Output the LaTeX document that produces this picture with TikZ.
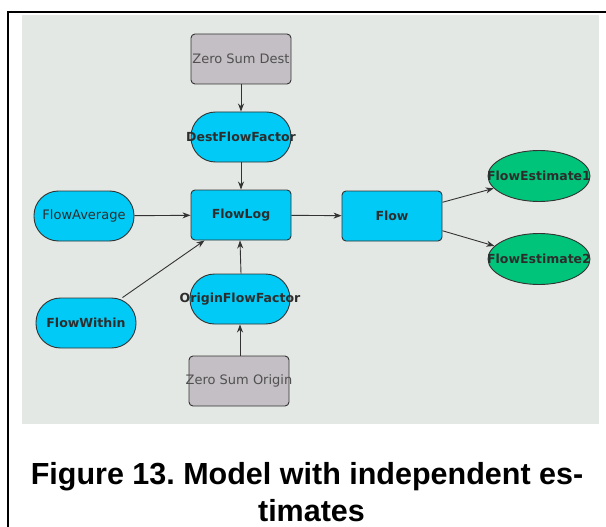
\documentclass[tikz,border=0pt]{standalone}
\usepackage{fontspec}
\newfontfamily\nodefont{DejaVu Sans}
\newfontfamily\capfont{Liberation Sans}
\usetikzlibrary{arrows.meta,shapes.geometric}
\definecolor{panelbg}{RGB}{228,232,228}
\definecolor{cyanfill}{RGB}{0,202,245}
\definecolor{greenfill}{RGB}{0,196,122}
\definecolor{grayfill}{RGB}{196,191,196}
\definecolor{edgecol}{RGB}{51,51,51}
\definecolor{labelcol}{RGB}{45,45,45}
\frenchspacing
% labels are set in zero-width boxes so that every node keeps its fixed size
\newcommand{\lbl}[1]{\makebox[0pt]{#1}}
\tikzset{
  base/.style={draw=edgecol, line width=0.9pt, minimum width=100pt, minimum height=50pt,
    inner sep=0pt, font=\nodefont\fontsize{13}{15}\selectfont, text=labelcol},
  boldlbl/.style={font=\nodefont\bfseries\fontsize{12.5}{15}\selectfont},
  constbox/.style={base, rectangle, rounded corners=4pt, fill=grayfill, text={rgb,255:red,80;green,80;blue,80}},
  varbox/.style={base, rectangle, rounded corners=4pt, fill=cyanfill, boldlbl},
  pill/.style={base, rectangle, rounded corners=24.5pt, fill=cyanfill},
  estim/.style={base, ellipse, minimum width=102pt, minimum height=51pt, fill=greenfill, boldlbl},
  link/.style={draw=edgecol, line width=0.9pt, -{Stealth[length=8pt,width=6pt,inset=2.5pt]}}
}
\begin{document}
\begin{tikzpicture}[x=1pt,y=-1pt]
  \useasboundingbox (0,0) rectangle (606,527);
  % page frame and canvas
  \draw[line width=2.2pt] (8,527) -- (8,12) -- (606,12);
  \fill[panelbg] (22,15) rectangle (599,424);

  % nodes
  \node[constbox] (zsd) at (241,59) {\lbl{Zero Sum Dest}};
  \node[pill, boldlbl] (dff) at (241,137) {\lbl{DestFlowFactor}};
  \node[varbox] (flog) at (241,215) {\lbl{FlowLog}};
  \node[pill] (favg) at (84,216) {\lbl{FlowAverage}};
  \node[varbox] (flow) at (392,216) {\lbl{Flow}};
  \node[estim] (fe1) at (539,176) {\lbl{FlowEstimate1}};
  \node[estim] (fe2) at (539,259) {\lbl{FlowEstimate2}};
  \node[pill, boldlbl] (fwith) at (86,323) {\lbl{FlowWithin}};
  \node[pill, boldlbl] (off) at (240,299) {\lbl{OriginFlowFactor}};
  \node[constbox] (zso) at (239,381) {\lbl{Zero Sum Origin}};

  % connectors
  \draw[link] (zsd) -- (dff);
  \draw[link] (dff) -- (flog);
  \draw[link] (favg) -- (flog);
  \draw[link] (fwith) -- (flog);
  \draw[link] (off.north -| flog.south) -- (flog.south -| off.north);
  \draw[link] (zso.north -| off.south) -- (off.south);
  \draw[link] (flog) -- (flow);
  \draw[link] (flow) -- (fe1);
  \draw[link] (flow) -- (fe2);

  % caption
  \node[font=\capfont\bfseries\fontsize{30.5}{37.5}\selectfont, anchor=base, inner sep=0pt] (cap1) at (307,484) {Figure 13. Model with independent es-};
  \node[font=\capfont\bfseries\fontsize{30.5}{37.5}\selectfont, anchor=base, inner sep=0pt] (cap2) at (311.5,521.5) {timates};
\end{tikzpicture}
\end{document}
